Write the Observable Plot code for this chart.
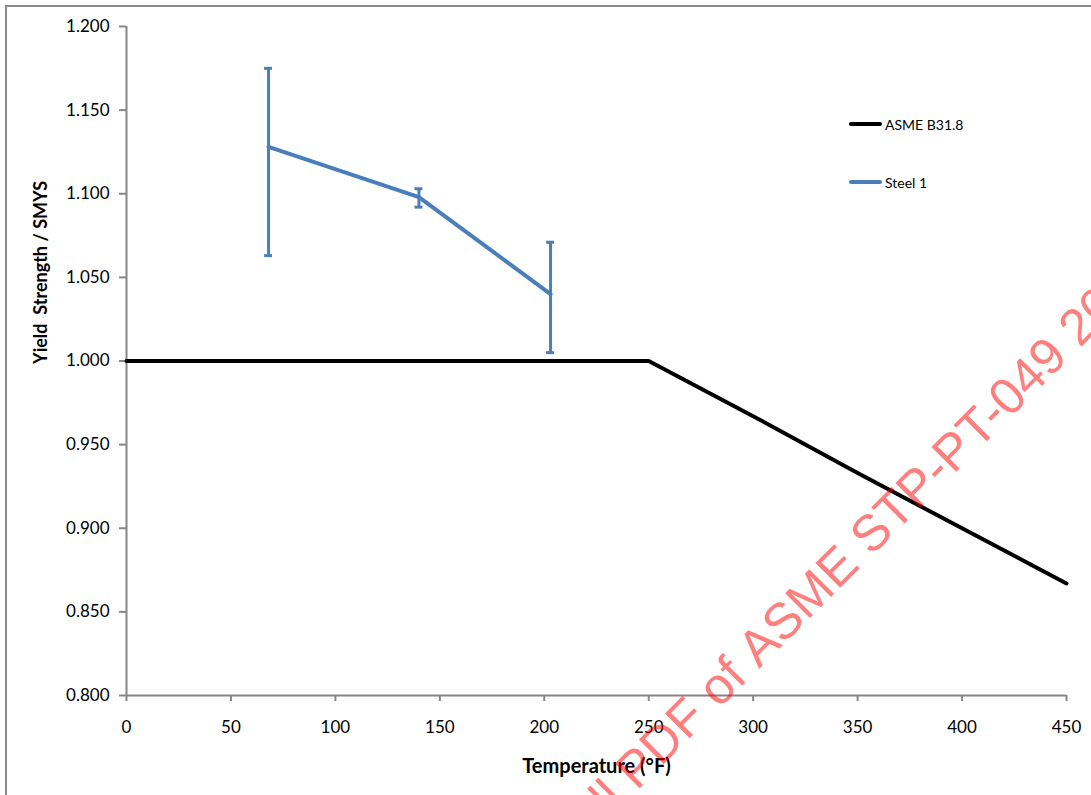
<!DOCTYPE html>
<html>
<head>
<meta charset="utf-8">
<script src="https://cdn.jsdelivr.net/npm/d3@7"></script>
<script src="https://cdn.jsdelivr.net/npm/@observablehq/plot@0.6"></script>
<style>
  html, body { margin: 0; padding: 0; background: #fff; overflow: hidden; }
  #wrap { position: relative; width: 1091px; height: 795px; overflow: hidden; }
  #border { position: absolute; left: 5px; top: 5px; width: 2000px; height: 2000px; border: 2px solid #8a8a8a; box-sizing: border-box; }
  #chart { position: absolute; left: 0; top: 0; }
  .legend { position: absolute; font-family: Lato, "Open Sans", sans-serif; font-size: 14px; color: #000; display: flex; align-items: center; }
  .legend .sw { width: 33px; height: 4px; border-radius: 2px; margin-right: 3px; }
  #wm { position: absolute; left: 0; top: 0; pointer-events: none; }
</style>
</head>
<body>
<div id="wrap">
  <div id="border"></div>
  <div id="chart"></div>
  <div class="legend" id="leg1" style="left:849px; top:114px; height:20px;"><div class="sw" style="background:#000"></div><span>ASME B31.8</span></div>
  <div class="legend" id="leg2" style="left:849px; top:172px; height:20px;"><div class="sw" style="background:#4a7ebb"></div><span>Steel 1</span></div>
  <svg id="wm" width="1091" height="795">
    <g transform="translate(759,669) rotate(-45)" font-family="Liberation Sans, Arial, sans-serif" font-size="51" fill="rgba(255,0,0,0.5)">
      <text x="0" y="0" text-anchor="end">Click to view the full PDF of&#160;</text>
      <text x="0" y="0" text-anchor="start">ASME STP-PT-049 2012</text>
    </g>
  </svg>
</div>
<script>
// ---- data ----
const asmeTemp = [0, 250, 300, 350, 400, 450];
const asmeRatio = [1.000, 1.000, 0.967, 0.933, 0.900, 0.867];

const steelTemp = [68, 140, 203];
const steelRatio = [1.128, 1.098, 1.040];
const steelHigh = [1.175, 1.103, 1.071];
const steelLow = [1.063, 1.092, 1.005];

const xTicks = [0, 50, 100, 150, 200, 250, 300, 350, 400, 450];
const yTicks = [0.800, 0.850, 0.900, 0.950, 1.000, 1.050, 1.100, 1.150, 1.200];

const xLabel = "Temperature (°F)";
const yLabel = "Yield  Strength / SMYS";

// ---- build tables ----
const asme = asmeTemp.map((t, i) => ({t, r: asmeRatio[i]}));
const steel = steelTemp.map((t, i) => ({t, r: steelRatio[i], hi: steelHigh[i], lo: steelLow[i]}));
const caps = steel.flatMap(d => [{t: d.t, v: d.hi}, {t: d.t, v: d.lo}]);

const blue = "#4a7ebb";
const axisGrey = "#868686";

const chart = Plot.plot({
  width: 1091,
  height: 795,
  marginLeft: 126,
  marginRight: 25,
  marginTop: 26,
  marginBottom: 100,
  style: {fontFamily: "Lato, 'Open Sans', sans-serif", fontSize: "17px", background: "transparent", color: "#000"},
  x: {domain: [0, 450]},
  y: {domain: [0.8, 1.2]},
  marks: [
    Plot.axisX({ticks: xTicks, tickSize: 6, tickPadding: 19, stroke: axisGrey, strokeWidth: 2, fill: "#000", fontSize: 17, label: null, tickFormat: d3.format("d")}),
    Plot.axisY({ticks: yTicks, tickSize: 7, tickPadding: 10, stroke: axisGrey, strokeWidth: 2, fill: "#000", fontSize: 17, label: null, tickFormat: d3.format(".3f")}),
    Plot.ruleY([0.8], {stroke: axisGrey, strokeWidth: 2}),
    Plot.ruleX([0], {stroke: axisGrey, strokeWidth: 2}),
    Plot.line(asme, {x: "t", y: "r", stroke: "#000", strokeWidth: 4, strokeLinecap: "round", strokeLinejoin: "round"}),
    Plot.ruleX(steel, {x: "t", y1: "lo", y2: "hi", stroke: blue, strokeWidth: 3}),
    Plot.ruleY(caps, {y: "v", x1: d => d.t - 1.9, x2: d => d.t + 1.9, stroke: blue, strokeWidth: 3}),
    Plot.line(steel, {x: "t", y: "r", stroke: blue, strokeWidth: 4, strokeLinecap: "round", strokeLinejoin: "round"}),
    Plot.text([xLabel], {frameAnchor: "bottom", dy: 71, lineAnchor: "middle", fontWeight: "bold", fontSize: 20, fill: "#000"}),
    Plot.text([yLabel], {frameAnchor: "left", dx: -85, dy: 3, rotate: -90, lineAnchor: "middle", fontWeight: "bold", fontSize: 18, fill: "#000"})
  ]
});
document.getElementById("chart").appendChild(chart);
</script>
</body>
</html>
